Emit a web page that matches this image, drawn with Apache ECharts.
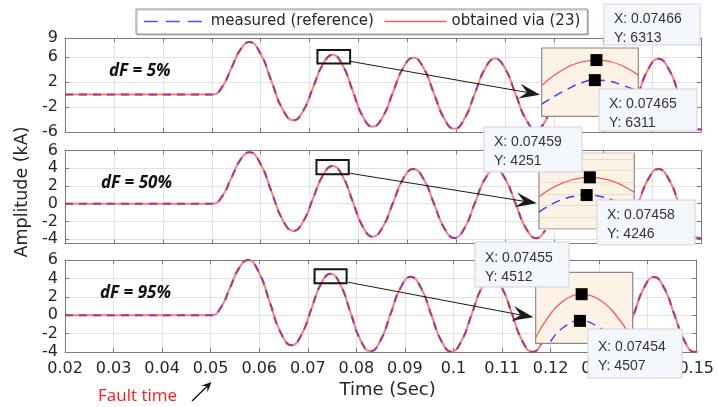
<!DOCTYPE html>
<html><head><meta charset="utf-8">
<script src="https://cdn.jsdelivr.net/npm/echarts@6/dist/echarts.min.js"></script>
<style>html,body{margin:0;padding:0;background:#fff}#c{width:717px;height:407px}</style>
</head><body><div id="c"></div>
<script>
// ---------------- data ----------------
const time = [0.02, 0.049, 0.0503,
  0.05215, 0.0540, 0.05585, 0.0577,
  0.05995, 0.0622, 0.06445, 0.0667,
  0.0687, 0.0707, 0.0727, 0.0747,
  0.07675, 0.0788, 0.08085, 0.0829,
  0.08498, 0.08705, 0.08913, 0.0912,
  0.0933, 0.0954, 0.0975, 0.0996,
  0.10168, 0.10375, 0.10583, 0.1079,
  0.1100, 0.1121, 0.1142, 0.1163,
  0.11838, 0.12045, 0.12253, 0.1246,
  0.1267, 0.1288, 0.1309, 0.1330,
  0.13508, 0.13715, 0.13923, 0.1413,
  0.1434, 0.1455, 0.1476, 0.1497,
  0.1505];
const amp5 = [0, 0, 0,
  1.22, 4.18, 7.14, 8.36,
  6.54, 2.11, -2.32, -4.14,
  -2.61, 1.09, 4.78, 6.31,
  4.64, 0.58, -3.48, -5.15,
  -3.54, 0.36, 4.25, 5.86,
  4.20, 0.18, -3.84, -5.50,
  -3.86, 0.11, 4.08, 5.72,
  4.07, 0.06, -3.95, -5.60,
  -3.95, 0.04, 4.03, 5.68,
  4.03, 0.03, -3.97, -5.62,
  -3.97, 0.04, 4.05, 5.70,
  4.05, 0.04, -3.97, -5.62,
  -5.52];
const amp50 = [0, 0, 0,
  0.85, 2.90, 4.95, 5.80,
  4.50, 1.36, -1.78, -3.08,
  -2.01, 0.59, 3.18, 4.25,
  3.08, 0.26, -2.57, -3.73,
  -2.61, 0.10, 2.80, 3.92,
  2.78, 0.02, -2.74, -3.88,
  -2.74, 0.02, 2.78, 3.92,
  2.78, 0.01, -2.76, -3.90,
  -2.76, 0.01, 2.78, 3.92,
  2.78, 0.01, -2.76, -3.90,
  -2.76, 0.01, 2.78, 3.92,
  2.78, 0.01, -2.76, -3.90,
  -3.84];
const amp95 = [0, 0, 0,
  0.88, 3.00, 5.12, 6.00,
  4.65, 1.37, -1.92, -3.27,
  -2.13, 0.62, 3.37, 4.51,
  3.28, 0.30, -2.69, -3.92,
  -2.74, 0.13, 3.00, 4.18,
  2.99, 0.11, -2.78, -3.97,
  -2.78, 0.09, 2.96, 4.15,
  2.96, 0.08, -2.81, -4.00,
  -2.81, 0.08, 2.96, 4.15,
  2.96, 0.08, -2.81, -4.00,
  -2.81, 0.08, 2.96, 4.15,
  2.96, 0.08, -2.81, -4.00,
  -3.94];
const panelLabels = ['dF = 5%', 'dF = 50%', 'dF = 95%'];
const yRange5 = [-6, 9], yRange50 = [-4.5, 6], yRange95 = [-4, 6];
const yTicks50 = [-4, -2, 0, 2, 4, 6];
const xRange = [0.02, 0.15];
// zoom rectangles [x1, y1, x2, y2] in data units
const zoomBox5 = [0.0716, 7.09, 0.07828, 4.95];
const zoomBox50 = [0.0714, 4.94, 0.0780, 3.32];
const zoomBox95 = [0.0714, 4.99, 0.0780, 3.46];
// inset (zoomed) curves, amperes
const insetObtX5 = [0.07432, 0.07440, 0.07448, 0.07456, 0.07466, 0.07474, 0.07482, 0.07492];
const insetObt5 = [6310.46, 6311.51, 6312.29, 6312.78, 6313.0, 6312.86, 6312.44, 6311.51];
const insetMeasX5 = [0.07432, 0.07440, 0.07448, 0.07456, 0.07465, 0.07474, 0.07482, 0.07492];
const insetMeas5 = [6308.6, 6309.4, 6310.1, 6310.7, 6311.0, 6310.9, 6310.5, 6309.9];
const insetObtX50 = [0.07443, 0.07447, 0.07451, 0.07455, 0.07459, 0.07462, 0.07466, 0.07469, 0.07473];
const insetObt50 = [4245.5, 4247.9, 4249.6, 4250.66, 4251.0, 4250.8, 4249.95, 4248.85, 4246.8];
const insetMeasX50 = [0.07443, 0.07447, 0.07451, 0.07455, 0.07458, 0.07462, 0.07466, 0.07469, 0.07473];
const insetMeas50 = [4241.2, 4243.4, 4244.95, 4245.8, 4246.0, 4245.66, 4244.6, 4243.4, 4241.2];
const insetObtX95 = [0.07428, 0.07436, 0.07444, 0.07450, 0.07455, 0.07460, 0.07466, 0.07474, 0.07485];
const insetObt95 = [4503.9, 4508.0, 4510.67, 4511.72, 4512.0, 4511.76, 4510.85, 4508.57, 4503.45];
const insetMeasX95 = [0.07428, 0.07436, 0.07445, 0.07454, 0.07463, 0.07472, 0.07480];
const insetMeas95 = [4498.2, 4502.8, 4505.95, 4507.0, 4506.2, 4503.76, 4500.2];
const insetRangeX = [[0.07432, 0.07492], [0.07443, 0.07473], [0.07428, 0.07485]];
const insetRangeY = [[6307.4, 6314.2], [4236.4, 4257.8], [4502.8, 4516.1]];
// data tips [x, y]
const tipObt = [[0.07466, 6313], [0.07459, 4251], [0.07455, 4512]];
const tipMeas = [[0.07465, 6311], [0.07458, 4246], [0.07454, 4507]];

// ---------------- layout / style ----------------
const AX = '#7a7a7a', TXT = '#262626', GRIDC = '#e2e2e2';
const TICKFONT = 'DejaVu Sans';
const mainGrids = [
  {left: 65, top: 38, width: 636, height: 94},
  {left: 65, top: 150.5, width: 636, height: 93},
  {left: 65, top: 260, width: 636, height: 92}
];
const insetGrids = [
  {left: 541.7, top: 48, width: 96.6, height: 68.3},
  {left: 539, top: 153.3, width: 95.3, height: 75.7},
  {left: 535.7, top: 272.3, width: 97, height: 71}
];
const tipLayout = [
  {obt: [604, 4, 96, 41, 9.8], meas: [599, 89, 98, 42, 94.8]},
  {obt: [484, 127, 98, 45, 132.2], meas: [597, 200, 98, 45, 205.5]},
  {obt: [475, 242, 94, 45, 248.8], meas: [588, 329, 94, 49, 337.2]}
];
const arrowLayout = [
  [350, 61.3, 540, 94.7],
  [350, 173.3, 536.7, 203.3],
  [348.3, 282.3, 533.3, 317.3]
];
const labelPos = [[109, 71], [101, 183.5], [100, 293.5]];

const amps = [amp5, amp50, amp95];
const yRanges = [yRange5, yRange50, yRange95];
const zoomBoxes = [zoomBox5, zoomBox50, zoomBox95];
const insets = [
  {ox: insetObtX5, oy: insetObt5, mx: insetMeasX5, my: insetMeas5},
  {ox: insetObtX50, oy: insetObt50, mx: insetMeasX50, my: insetMeas50},
  {ox: insetObtX95, oy: insetObt95, mx: insetMeasX95, my: insetMeas95}
];
const zip = (xs, ys) => xs.map((x, i) => [x, ys[i]]);

const grid = mainGrids.concat(insetGrids.map(g => Object.assign({}, g)));
const xAxis = [], yAxis = [], series = [];

function yAxisCfg(i, right) {
  const r = yRanges[i];
  const c = {
    type: 'value', gridIndex: i, min: r[0], max: r[1], position: right ? 'right' : 'left',
    axisLine: {show: true, onZero: false, lineStyle: {color: AX, width: 1}},
    axisTick: {show: true, inside: true, length: 4, lineStyle: {color: AX}},
    axisLabel: {show: !right, margin: 7, fontFamily: TICKFONT, fontSize: 16, color: TXT},
    splitLine: {show: !right, lineStyle: {color: GRIDC, width: 1}}
  };
  if (i === 0) { c.interval = 4; }
  else if (i === 2) { c.interval = 2; }
  else {
    c.axisTick.customValues = yTicks50;
    c.axisLabel.customValues = yTicks50;
  }
  if (i === 1 && !right) {
    c.name = 'Amplitude (kA)';
    c.nameLocation = 'middle';
    c.nameRotate = 90;
    c.nameGap = 30;
    c.nameTextStyle = {fontFamily: TICKFONT, fontSize: 17.5, color: TXT, padding: [0, 0, 0, 10]};
  }
  return c;
}

for (let i = 0; i < 3; i++) {
  xAxis.push({
    type: 'value', gridIndex: i, min: xRange[0], max: xRange[1], interval: 0.01, position: 'bottom',
    axisLine: {show: true, onZero: false, lineStyle: {color: AX, width: 1}},
    axisTick: {show: true, inside: true, length: 4, lineStyle: {color: AX}},
    axisLabel: {show: i === 2, margin: 9, fontFamily: TICKFONT, fontSize: 16, color: TXT,
      formatter: v => String(Math.round(v * 100) / 100)},
    splitLine: {show: true, lineStyle: {color: GRIDC, width: 1}},
    name: i === 2 ? 'Time (Sec)' : '',
    nameLocation: 'middle', nameGap: 29,
    nameTextStyle: {fontFamily: TICKFONT, fontSize: 18, color: TXT, padding: [0, 0, 0, 14]}
  });
  xAxis.push({
    type: 'value', gridIndex: i, min: xRange[0], max: xRange[1], interval: 0.01, position: 'top',
    axisLine: {show: true, onZero: false, lineStyle: {color: AX, width: 1}},
    axisTick: {show: true, inside: true, length: 4, lineStyle: {color: AX}},
    axisLabel: {show: false}, splitLine: {show: false}
  });
  yAxis.push(yAxisCfg(i, false));
  yAxis.push(yAxisCfg(i, true));
}
for (let i = 0; i < 3; i++) {
  xAxis.push({type: 'value', gridIndex: 3 + i, min: insetRangeX[i][0], max: insetRangeX[i][1], show: false});
  yAxis.push({
    type: 'value', gridIndex: 3 + i, min: insetRangeY[i][0], max: insetRangeY[i][1], z: 6,
    interval: i === 1 ? 3.3 : undefined,
    axisLine: {show: false}, axisTick: {show: false}, axisLabel: {show: false},
    splitLine: {show: i === 1, lineStyle: {color: '#eadccd', width: 1}}
  });
}

for (let i = 0; i < 3; i++) {
  const pts = zip(time, amps[i]);
  const zb = zoomBoxes[i];
  series.push({
    name: 'obtained via (23)', type: 'line', xAxisIndex: 2 * i, yAxisIndex: 2 * i,
    data: pts, smooth: 0.5, symbol: 'none', showSymbol: false, z: 2,
    lineStyle: {color: '#ff7d7d', width: 2}, itemStyle: {color: '#ff7d7d'},
    markArea: {silent: true, z: 4,
      itemStyle: {color: 'rgba(0,0,0,0)', borderColor: '#151515', borderWidth: 2},
      data: [[{xAxis: zb[0], yAxis: zb[1]}, {xAxis: zb[2], yAxis: zb[3]}]]}
  });
  series.push({
    name: 'measured (reference)', type: 'line', xAxisIndex: 2 * i, yAxisIndex: 2 * i,
    data: pts, smooth: 0.5, symbol: 'none', showSymbol: false, z: 3,
    lineStyle: {color: '#9a3b98', width: 2, type: [8, 6]}, itemStyle: {color: '#9a3b98'}
  });
}
for (let i = 0; i < 3; i++) {
  const s = insets[i];
  series.push({
    name: 'inset obtained ' + i, type: 'line', xAxisIndex: 6 + i, yAxisIndex: 6 + i,
    data: zip(s.ox, s.oy), smooth: 0.5, symbol: 'none', z: 6, silent: true,
    lineStyle: {color: '#ff5050', width: 1.2}
  });
  series.push({
    name: 'inset measured ' + i, type: 'line', xAxisIndex: 6 + i, yAxisIndex: 6 + i,
    data: zip(s.mx, s.my), smooth: 0.5, symbol: 'none', z: 6, silent: true,
    lineStyle: {color: '#3f3fff', width: 1.5, type: [9, 6]}
  });
  series.push({
    name: 'tips ' + i, type: 'scatter', xAxisIndex: 6 + i, yAxisIndex: 6 + i,
    data: [tipObt[i], tipMeas[i]], symbol: 'rect', symbolSize: 12, clip: false, silent: true, z: 7,
    itemStyle: {color: '#000', opacity: 1}
  });
}

// ---------------- annotations ----------------
function arrowEls(x1, y1, x2, y2, head, half, notch, color, lw, z) {
  const a = Math.atan2(y2 - y1, x2 - x1), ux = Math.cos(a), uy = Math.sin(a), px = -uy, py = ux;
  const bx = x2 - ux * head, by = y2 - uy * head;
  const nx = x2 - ux * notch, ny = y2 - uy * notch;
  return [
    {type: 'line', z: z, silent: true, shape: {x1: x1, y1: y1, x2: nx, y2: ny}, style: {stroke: color, lineWidth: lw}},
    {type: 'polygon', z: z, silent: true,
      shape: {points: [[x2, y2], [bx + px * half, by + py * half], [nx, ny], [bx - px * half, by - py * half]]},
      style: {fill: color}}
  ];
}
const graphic = [];
for (let i = 0; i < 3; i++) {
  const g = insetGrids[i];
  graphic.push({type: 'rect', z: 5, silent: true, shape: {x: g.left, y: g.top, width: g.width, height: g.height},
    style: {fill: '#fdf2e6', stroke: '#8a8a8a', lineWidth: 1.2}});
  const ar = arrowLayout[i];
  arrowEls(ar[0], ar[1], ar[2], ar[3], 21, 7.5, 13, '#1a1a1a', 1, 9).forEach(e => graphic.push(e));
  const tl = tipLayout[i];
  [[tl.obt, tipObt[i]], [tl.meas, tipMeas[i]]].forEach(([b, v]) => {
    graphic.push({type: 'rect', z: 20, silent: true, shape: {x: b[0], y: b[1], width: b[2], height: b[3]},
      style: {fill: '#f4f7fb', stroke: '#cfd3d8', lineWidth: 1}});
    graphic.push({type: 'text', z: 21, silent: true, x: b[0] + 10, y: b[4],
      style: {text: 'X: ' + v[0] + '\nY: ' + v[1], fill: '#333', font: '14px "Liberation Sans"',
        lineHeight: 19, verticalAlign: 'top'}});
  });
  graphic.push({type: 'text', z: 8, silent: true, x: labelPos[i][0], y: labelPos[i][1],
    style: {text: panelLabels[i], fill: '#111', font: 'italic bold 17px "Open Sans"', verticalAlign: 'middle'}});
}
graphic.push({type: 'text', z: 8, silent: true, x: 98, y: 396,
  style: {text: 'Fault time', fill: '#ff1a1a', font: '17px "Open Sans"', verticalAlign: 'middle'}});
arrowEls(192, 401, 211.5, 382, 10, 4.5, 6, '#111', 1.3, 8).forEach(e => graphic.push(e));

const chart = echarts.init(document.getElementById('c'), null, {renderer: 'canvas'});
chart.setOption({
  animation: false,
  backgroundColor: '#fff',
  legend: {
    left: 136, top: 9, selectedMode: false, itemWidth: 62, itemHeight: 14, itemGap: 10,
    padding: [5, 7, 5, 7], borderColor: '#999', borderWidth: 1, backgroundColor: '#fff',
    shadowColor: 'rgba(0,0,0,0.25)', shadowOffsetX: 1, shadowOffsetY: 1, shadowBlur: 0,
    textStyle: {fontFamily: TICKFONT, fontSize: 15, color: TXT},
    data: [
      {name: 'measured (reference)', itemStyle: {color: 'rgba(0,0,0,0)', borderWidth: 0, opacity: 0},
        lineStyle: {color: '#4b4bff', width: 1.5, type: [14, 8]}},
      {name: 'obtained via (23)', itemStyle: {color: 'rgba(0,0,0,0)', borderWidth: 0, opacity: 0},
        lineStyle: {color: '#ff5a5a', width: 1.5}}
    ]
  },
  grid: grid,
  xAxis: xAxis,
  yAxis: yAxis,
  series: series,
  graphic: graphic
});
</script></body></html>
